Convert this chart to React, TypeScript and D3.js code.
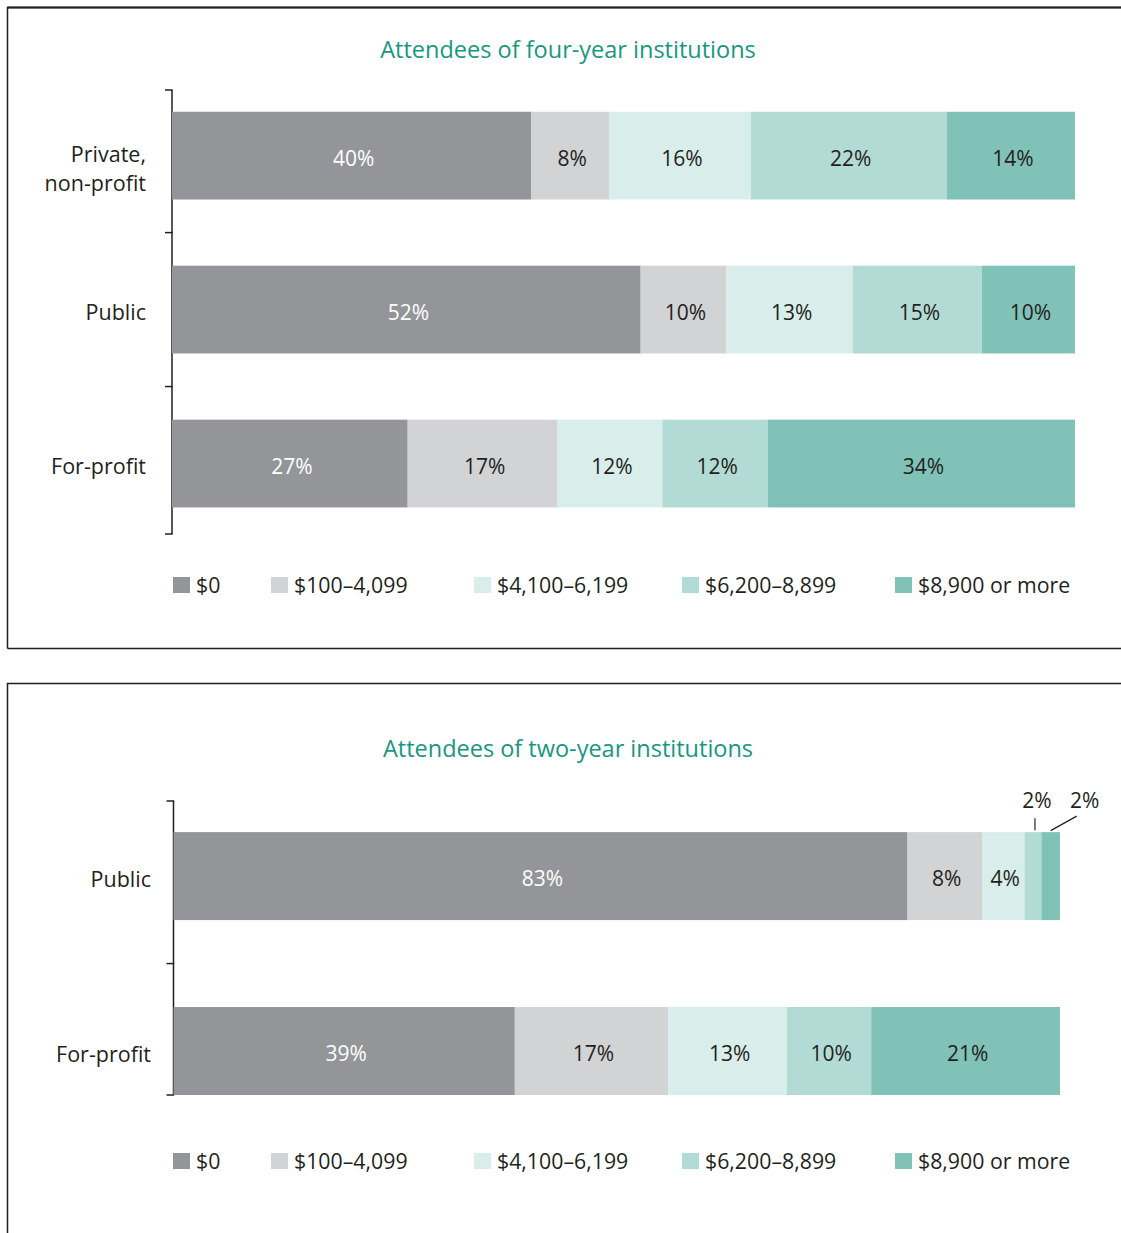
import * as d3 from 'd3';

const bins = ['$0', '$100–4,099', '$4,100–6,199', '$6,200–8,899', '$8,900 or more'];
const binColors = ['#939598', '#d1d3d4', '#d9edeb', '#b2dbd6', '#80c2b8'];

const fourYearCategories = ['Private, non-profit', 'Public', 'For-profit'];
const fourYearValues = [
  [39.8, 8.6, 15.7, 21.7, 14.2],
  [51.9, 9.5, 14.0, 14.3, 10.3],
  [26.1, 16.6, 11.6, 11.7, 34.0],
];
const fourYearLabels = [
  ['40%', '8%', '16%', '22%', '14%'],
  ['52%', '10%', '13%', '15%', '10%'],
  ['27%', '17%', '12%', '12%', '34%'],
];

const twoYearCategories = ['Public', 'For-profit'];
const twoYearValues = [
  [82.8, 8.4, 4.8, 1.9, 2.1],
  [38.5, 17.3, 13.4, 9.5, 21.3],
];
const twoYearLabels = [
  ['83%', '8%', '4%', '2%', '2%'],
  ['39%', '17%', '13%', '10%', '21%'],
];

const FONT = '"Open Sans", "Noto Sans", sans-serif';
const INK = '#231f20';
const TEAL = '#17977f';
const legendX = [173, 271, 474, 682, 895];

type PanelProps = {
  title: string;
  categories: string[];
  values: number[][];
  labels: string[][];
  titleY: number;
  axisX: number;
  bandRange: [number, number];
  xEnd: number;
  align: number;
  paddingInner: number;
  paddingOuter: number;
  labelX: number;
  legendY: number;
};

const Panel = (p: PanelProps) => {
  const x = d3.scaleLinear().domain([0, 100]).range([p.axisX, p.xEnd]);
  const y = d3.scaleBand<string>()
    .domain(p.categories)
    .range(p.bandRange)
    .paddingInner(p.paddingInner)
    .paddingOuter(p.paddingOuter)
    .align(p.align);
  const bw = y.bandwidth();
  const gap = y.step() * p.paddingInner;

  const ticks = [p.bandRange[0], ...p.categories.slice(1).map(c => (y(c) as number) - gap / 2), p.bandRange[1]];

  return (
    <g>
      <text x={568} y={p.titleY} textAnchor="middle" dominantBaseline="central"
        fill={TEAL} fontSize={23.5} fontFamily={FONT}>{p.title}</text>

      <line x1={p.axisX} x2={p.axisX} y1={p.bandRange[0]} y2={p.bandRange[1]} stroke={INK} strokeWidth={1.5} />
      {ticks.map((t, i) => (
        <line key={i} x1={p.axisX - 7} x2={p.axisX + 0.75} y1={t} y2={t} stroke={INK} strokeWidth={1.5} />
      ))}

      {p.categories.map((cat, ci) => {
        const stack = d3.cumsum(p.values[ci]);
        const y0 = y(cat) as number;
        const cy = y0 + bw / 2;
        const lines = cat.includes(', ') ? [cat.split(', ')[0] + ',', cat.split(', ')[1]] : [cat];
        const labelCy = lines.length > 1 ? cy + 12 : cy + 2;
        let outside = 0;
        return (
          <g key={cat}>
            <text textAnchor="end" fontSize={21.5} fontFamily={FONT} fill={INK}>
              {lines.map((l, li) => (
                <tspan key={li} x={p.labelX} y={labelCy + (li - (lines.length - 1) / 2) * 29} dominantBaseline="central">{l}</tspan>
              ))}
            </text>
            {p.values[ci].map((v, si) => {
              const xa = x(stack[si] - v);
              const xb = x(stack[si]);
              const mid = (xa + xb) / 2;
              const fits = xb - xa > 28;
              let label;
              if (fits) {
                label = (
                  <text x={mid + 2} y={cy + 2} textAnchor="middle" dominantBaseline="central"
                    fontSize={21} fontFamily={FONT} fill={si === 0 ? '#ffffff' : INK}>{p.labels[ci][si]}</text>
                );
              } else {
                const k = outside++;
                label = k === 0 ? (
                  <g>
                    <line x1={mid + 2} x2={mid + 2} y1={y0 - 2} y2={y0 - 14} stroke={INK} strokeWidth={1.2} />
                    <text x={mid + 4} y={y0 - 32} textAnchor="middle" dominantBaseline="central"
                      fontSize={21} fontFamily={FONT} fill={INK}>{p.labels[ci][si]}</text>
                  </g>
                ) : (
                  <g>
                    <line x1={mid} x2={mid + 26} y1={y0 - 1.5} y2={y0 - 16} stroke={INK} strokeWidth={1.2} />
                    <text x={mid + 34} y={y0 - 32} textAnchor="middle" dominantBaseline="central"
                      fontSize={21} fontFamily={FONT} fill={INK}>{p.labels[ci][si]}</text>
                  </g>
                );
              }
              return (
                <g key={si}>
                  <rect x={xa} y={y0} width={xb - xa} height={bw} fill={binColors[si]} />
                  {label}
                </g>
              );
            })}
          </g>
        );
      })}

      {bins.map((b, i) => (
        <g key={b}>
          <rect x={legendX[i]} y={p.legendY - 8} width={17} height={16} fill={binColors[i]} />
          <text x={legendX[i] + 23} y={p.legendY - 0.5} dominantBaseline="central"
            fontSize={21.3} fontFamily={FONT} fill={INK}>{b}</text>
        </g>
      ))}
    </g>
  );
};

export default function App() {
  return (
    <svg width={1121} height={1233} style={{ position: 'absolute', left: 0, top: 0, background: '#fff' }}>
      <path d="M7.5,648.5 V7.5 H1121" fill="none" stroke={INK} strokeWidth={1.5} />
      <line x1={7.5} x2={1121} y1={7.5} y2={7.5} stroke={INK} strokeWidth={2} />
      <line x1={7.5} x2={1121} y1={648.5} y2={648.5} stroke={INK} strokeWidth={1.5} />
      <path d="M7.5,1233 V683.5 H1121" fill="none" stroke={INK} strokeWidth={1.5} />

      <Panel title="Attendees of four-year institutions" categories={fourYearCategories}
        values={fourYearValues} labels={fourYearLabels} titleY={49} axisX={172}
        bandRange={[90, 534]} xEnd={1075} align={0.45} paddingInner={0.43} paddingOuter={0.157}
        labelX={146} legendY={585} />

      <Panel title="Attendees of two-year institutions" categories={twoYearCategories}
        values={twoYearValues} labels={twoYearLabels} titleY={748} axisX={173.5}
        bandRange={[801, 1095]} xEnd={1060} align={1} paddingInner={0.497} paddingOuter={0.089}
        labelX={151} legendY={1161} />
    </svg>
  );
}
